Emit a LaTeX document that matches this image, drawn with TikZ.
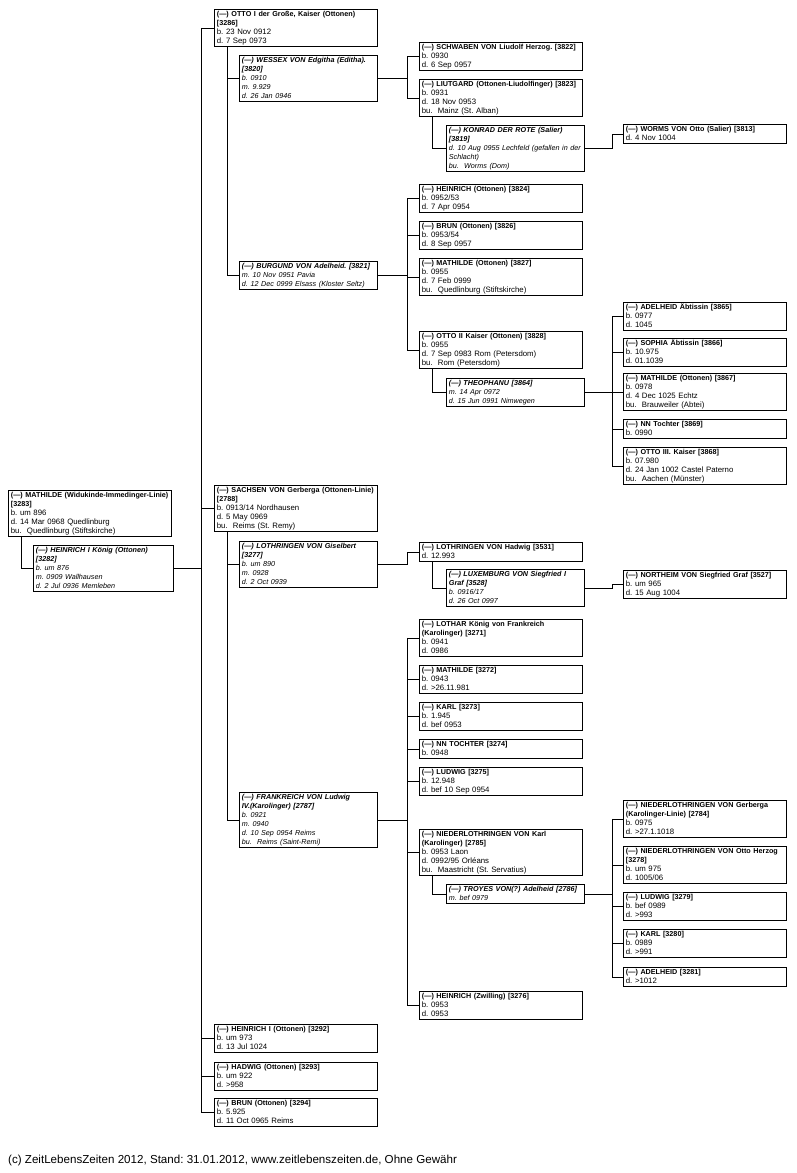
\documentclass[tikz,border=0pt]{standalone}
\usepackage{fontspec}
\setmainfont{Liberation Sans}
\frenchspacing
\newcommand\ti[1]{\mbox{\fontsize{7.2}{9}\selectfont\bfseries #1}}
\newcommand\si[1]{\mbox{\fontsize{7.2}{9}\selectfont\bfseries\itshape #1}}
\newcommand\il[1]{\mbox{\fontsize{7.2}{9}\selectfont\itshape #1}}
\tikzset{
  pbox/.style={draw, line width=0.8pt, anchor=north west, inner xsep=2.5pt, inner ysep=0.5pt,
    text width=158pt, align=left, font=\fontsize{7.8}{9}\selectfont,
    execute at begin node=\strut, execute at end node=\strut},
  sbox/.style={pbox, text width=133pt},
  link/.style={line width=0.8pt},
}
\begin{document}
\begin{tikzpicture}[x=1pt,y=-1pt]
\useasboundingbox (0,0) rectangle (796,1173);
% column A
\node[pbox] (m3283) at (8,490) {\ti{(---) MATHILDE (Widukinde-Immedinger-Linie)}\\\ti{[3283]}\\b. um 896\\d. 14 Mar 0968 Quedlinburg\\bu.~~Quedlinburg (Stiftskirche)};
\node[sbox,text width=135pt] (s3282) at (33,545) {\si{(---) HEINRICH I König (Ottonen)}\\\si{[3282]}\\\il{b. um 876}\\\il{m. 0909 Wallhausen}\\\il{d. 2 Jul 0936 Memleben}};
% column B
\node[pbox] (c3286) at (214,9) {\ti{(---) OTTO I der Große, Kaiser (Ottonen)}\\\ti{[3286]}\\b. 23 Nov 0912\\d. 7 Sep 0973};
\node[sbox] (s3820) at (239,55) {\si{(---) WESSEX VON Edgitha (Editha).}\\\si{[3820]}\\\il{b. 0910}\\\il{m. 9.929}\\\il{d. 26 Jan 0946}};
\node[sbox] (s3821) at (239,261) {\si{(---) BURGUND VON Adelheid. [3821]}\\\il{m. 10 Nov 0951 Pavia}\\\il{d. 12 Dec 0999 Elsass (Kloster Seltz)}};
\node[pbox] (c2788) at (214,485) {\ti{(---) SACHSEN VON Gerberga (Ottonen-Linie)}\\\ti{[2788]}\\b. 0913/14 Nordhausen\\d. 5 May 0969\\bu.~~Reims (St. Remy)};
\node[sbox] (s3277) at (239,541) {\si{(---) LOTHRINGEN VON Giselbert}\\\si{[3277]}\\\il{b. um 890}\\\il{m. 0928}\\\il{d. 2 Oct 0939}};
\node[sbox] (s2787) at (239,792) {\si{(---) FRANKREICH VON Ludwig}\\\si{IV.(Karolinger) [2787]}\\\il{b. 0921}\\\il{m. 0940}\\\il{d. 10 Sep 0954 Reims}\\\il{bu.~~Reims (Saint-Remi)}};
\node[pbox] (c3292) at (214,1024) {\ti{(---) HEINRICH I (Ottonen) [3292]}\\b. um 973\\d. 13 Jul 1024};
\node[pbox] (c3293) at (214,1062) {\ti{(---) HADWIG (Ottonen) [3293]}\\b. um 922\\d. >958};
\node[pbox] (c3294) at (214,1098) {\ti{(---) BRUN (Ottonen) [3294]}\\b. 5.925\\d. 11 Oct 0965 Reims};
% column C
\node[pbox] (c3822) at (419,42) {\ti{(---) SCHWABEN VON Liudolf Herzog. [3822]}\\b. 0930\\d. 6 Sep 0957};
\node[pbox] (c3823) at (419,79) {\ti{(---) LIUTGARD (Ottonen-Liudolfinger) [3823]}\\b. 0931\\d. 18 Nov 0953\\bu.~~Mainz (St. Alban)};
\node[sbox] (s3819) at (446,125) {\si{(---) KONRAD DER ROTE (Salier)}\\\si{[3819]}\\\il{d. 10 Aug 0955 Lechfeld (gefallen in der}\\\il{Schlacht)}\\\il{bu.~~Worms (Dom)}};
\node[pbox] (c3824) at (419,184) {\ti{(---) HEINRICH (Ottonen) [3824]}\\b. 0952/53\\d. 7 Apr 0954};
\node[pbox] (c3826) at (419,221) {\ti{(---) BRUN (Ottonen) [3826]}\\b. 0953/54\\d. 8 Sep 0957};
\node[pbox] (c3827) at (419,258) {\ti{(---) MATHILDE (Ottonen) [3827]}\\b. 0955\\d. 7 Feb 0999\\bu.~~Quedlinburg (Stiftskirche)};
\node[pbox] (c3828) at (419,331) {\ti{(---) OTTO II Kaiser (Ottonen) [3828]}\\b. 0955\\d. 7 Sep 0983 Rom (Petersdom)\\bu.~~Rom (Petersdom)};
\node[sbox] (s3864) at (446,378) {\si{(---) THEOPHANU [3864]}\\\il{m. 14 Apr 0972}\\\il{d. 15 Jun 0991 Nimwegen}};
\node[pbox] (c3531) at (419,542) {\ti{(---) LOTHRINGEN VON Hadwig [3531]}\\d. 12.993};
\node[sbox] (s3528) at (446,569) {\si{(---) LUXEMBURG VON Siegfried I}\\\si{Graf [3528]}\\\il{b. 0916/17}\\\il{d. 26 Oct 0997}};
\node[pbox] (c3271) at (419,619) {\ti{(---) LOTHAR König von Frankreich}\\\ti{(Karolinger) [3271]}\\b. 0941\\d. 0986};
\node[pbox] (c3272) at (419,665) {\ti{(---) MATHILDE [3272]}\\b. 0943\\d. >26.11.981};
\node[pbox] (c3273) at (419,702) {\ti{(---) KARL [3273]}\\b. 1.945\\d. bef 0953};
\node[pbox] (c3274) at (419,739) {\ti{(---) NN TOCHTER [3274]}\\b. 0948};
\node[pbox] (c3275) at (419,767) {\ti{(---) LUDWIG [3275]}\\b. 12.948\\d. bef 10 Sep 0954};
\node[pbox] (c2785) at (419,829) {\ti{(---) NIEDERLOTHRINGEN VON Karl}\\\ti{(Karolinger) [2785]}\\b. 0953 Laon\\d. 0992/95 Orléans\\bu.~~Maastricht (St. Servatius)};
\node[sbox] (s2786) at (446,884) {\si{(---) TROYES VON(?) Adelheid [2786]}\\\il{m. bef 0979}};
\node[pbox] (c3276) at (419,991) {\ti{(---) HEINRICH (Zwilling) [3276]}\\b. 0953\\d. 0953};
% column D
\node[pbox] (c3813) at (623,124) {\ti{(---) WORMS VON Otto (Salier) [3813]}\\d. 4 Nov 1004};
\node[pbox] (c3865) at (623,302) {\ti{(---) ADELHEID Äbtissin [3865]}\\b. 0977\\d. 1045};
\node[pbox] (c3866) at (623,338) {\ti{(---) SOPHIA Äbtissin [3866]}\\b. 10.975\\d. 01.1039};
\node[pbox] (c3867) at (623,373) {\ti{(---) MATHILDE (Ottonen) [3867]}\\b. 0978\\d. 4 Dec 1025 Echtz\\bu.~~Brauweiler (Abtei)};
\node[pbox] (c3869) at (623,419) {\ti{(---) NN Tochter [3869]}\\b. 0990};
\node[pbox] (c3868) at (623,447) {\ti{(---) OTTO III. Kaiser [3868]}\\b. 07.980\\d. 24 Jan 1002 Castel Paterno\\bu.~~Aachen (Münster)};
\node[pbox] (c3527) at (623,570) {\ti{(---) NORTHEIM VON Siegfried Graf [3527]}\\b. um 965\\d. 15 Aug 1004};
\node[pbox] (c2784) at (623,800) {\ti{(---) NIEDERLOTHRINGEN VON Gerberga}\\\ti{(Karolinger-Linie) [2784]}\\b. 0975\\d. >27.1.1018};
\node[pbox] (c3278) at (623,846) {\ti{(---) NIEDERLOTHRINGEN VON Otto Herzog}\\\ti{[3278]}\\b. um 975\\d. 1005/06};
\node[pbox] (c3279) at (623,892) {\ti{(---) LUDWIG [3279]}\\b. bef 0989\\d. >993};
\node[pbox] (c3280) at (623,929) {\ti{(---) KARL [3280]}\\b. 0989\\d. >991};
\node[pbox] (c3281) at (623,967) {\ti{(---) ADELHEID [3281]}\\d. >1012};
% footer
\node[anchor=base west, inner sep=0pt, font=\fontsize{11.6}{14}\selectfont] (foot) at (8,1163) {(c) ZeitLebensZeiten 2012, Stand: 31.01.2012, www.zeitlebenszeiten.de, Ohne Gewähr};
% spine coordinates
\coordinate (fA) at (201,0);
\coordinate (fB) at (407,0);
\coordinate (fC) at (612,0);
% spouse links
\draw[link] ([xshift=13pt]m3283.south west) |- (s3282.west);
\draw[link] ([xshift=13pt]c3286.south west) |- (s3821.west);
\draw[link] ([xshift=13pt]c3286.south west |- s3820.west) -- (s3820.west);
\draw[link] ([xshift=13pt]c3823.south west) |- (s3819.west);
\draw[link] ([xshift=13pt]c3828.south west) |- (s3864.west);
\draw[link] ([xshift=13pt]c2788.south west) |- (s2787.west);
\draw[link] ([xshift=13pt]c2788.south west |- s3277.west) -- (s3277.west);
\draw[link] ([xshift=13pt]c3531.south west) |- (s3528.west);
\draw[link] ([xshift=13pt]c2785.south west) |- (s2786.west);
% Heinrich I + Mathilde children
\draw[link] (s3282.east) -- (s3282.east -| fA);
\draw[link] (fA |- c3286.west) -- (fA |- c3294.west);
\foreach \c in {c3286,c2788,c3292,c3293,c3294} \draw[link] (fA |- \c.west) -- (\c.west);
% Wessex children
\draw[link] (s3820.east) -- (s3820.east -| fB);
\draw[link] (fB |- c3822.west) -- (fB |- c3823.west);
\foreach \c in {c3822,c3823} \draw[link] (fB |- \c.west) -- (\c.west);
% Konrad children
\draw[link] (s3819.east) -- (s3819.east -| fC) -- (fC |- c3813.west) -- (c3813.west);
% Burgund children
\draw[link] (s3821.east) -- (s3821.east -| fB);
\draw[link] (fB |- c3824.west) -- (fB |- c3828.west);
\foreach \c in {c3824,c3826,c3827,c3828} \draw[link] (fB |- \c.west) -- (\c.west);
% Theophanu children
\draw[link] (s3864.east) -- (s3864.east -| fC);
\draw[link] (fC |- c3865.west) -- (fC |- c3868.west);
\foreach \c in {c3865,c3866,c3867,c3869,c3868} \draw[link] (fC |- \c.west) -- (\c.west);
% Lothringen children
\draw[link] (s3277.east) -- (s3277.east -| fB) -- (fB |- c3531.west) -- (c3531.west);
% Luxemburg children
\draw[link] (s3528.east) -- (s3528.east -| fC) -- (fC |- c3527.west) -- (c3527.west);
% Frankreich children
\draw[link] (s2787.east) -- (s2787.east -| fB);
\draw[link] (fB |- c3271.west) -- (fB |- c3276.west);
\foreach \c in {c3271,c3272,c3273,c3274,c3275,c2785,c3276} \draw[link] (fB |- \c.west) -- (\c.west);
% Troyes children
\draw[link] (s2786.east) -- (s2786.east -| fC);
\draw[link] (fC |- c2784.west) -- (fC |- c3281.west);
\foreach \c in {c2784,c3278,c3279,c3280,c3281} \draw[link] (fC |- \c.west) -- (\c.west);
\end{tikzpicture}
\end{document}
